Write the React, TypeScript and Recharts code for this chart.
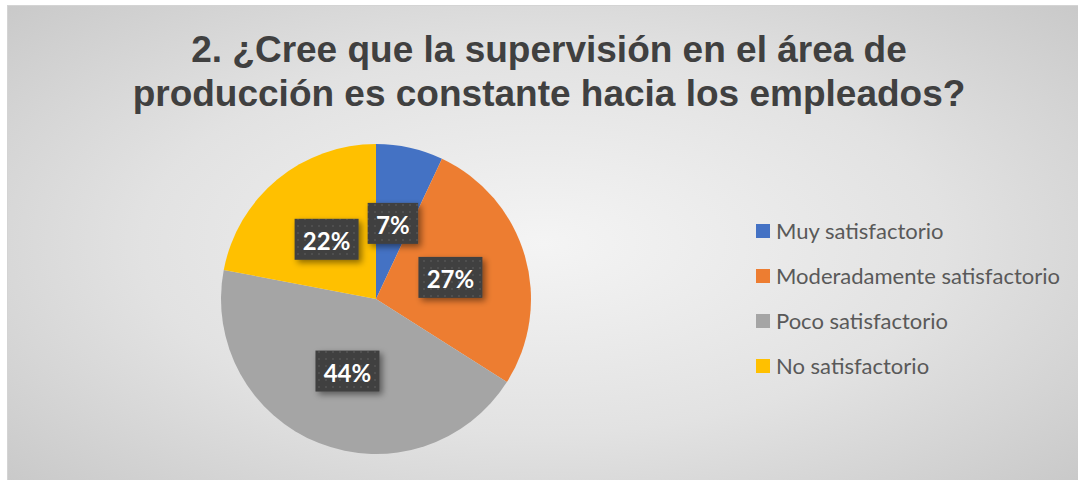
import React from "react";
import { Cell, Legend, Pie, PieChart } from "recharts";

const categories = [
  "Muy satisfactorio",
  "Moderadamente satisfactorio",
  "Poco satisfactorio",
  "No satisfactorio",
];
const percents = [7, 27, 44, 22];
const colors = ["#4472C4", "#ED7D31", "#A5A5A5", "#FFC000"];

const data = categories.map((name, i) => ({ name, value: percents[i] }));

const RAD = Math.PI / 180;

const renderLabel = (props: any) => {
  const { cx, cy, midAngle, outerRadius, value } = props;
  const r = outerRadius * 0.5;
  const x = cx + r * Math.cos(-midAngle * RAD);
  const y = cy + r * Math.sin(-midAngle * RAD);
  const text = `${value}%`;
  const w = String(value).length * 13.5 + 37;
  const h = 41;
  return (
    <g>
      <rect
        x={x - w / 2}
        y={y - h / 2}
        width={w}
        height={h}
        fill="url(#dots)"
        filter="url(#shadow)"
      />
      <text
        x={x}
        y={y + 1}
        fill="#ffffff"
        textAnchor="middle"
        dominantBaseline="central"
        fontFamily="Lato"
        fontWeight={700}
        fontSize={24}
      >
        {text}
      </text>
    </g>
  );
};

const renderLegend = () => (
  <div style={{ fontFamily: "Lato", fontSize: 22, color: "#595959" }}>
    {categories.map((c, i) => (
      <div
        key={c}
        style={{ display: "flex", alignItems: "center", height: 45 }}
      >
        <span
          style={{
            display: "inline-block",
            width: 14,
            height: 14,
            background: colors[i],
            marginRight: 6,
          }}
        />
        <span>{c}</span>
      </div>
    ))}
  </div>
);

export default function App() {
  return (
    <div
      style={{
        position: "absolute",
        left: 7,
        top: 5,
        width: 1071,
        height: 476,
        boxSizing: "border-box",
        borderLeft: "1px solid #d4d4d4",
        borderTop: "1px solid #d4d4d4",
        background:
          "radial-gradient(ellipse 75% 80% at 50% 50%, #f4f4f4 0%, #e2e2e2 50%, #c4c4c4 100%)",
      }}
    >
      <div
        style={{
          position: "absolute",
          top: 22,
          left: 0,
          width: 1082,
          textAlign: "center",
          fontFamily: "'Liberation Sans', Arial, sans-serif",
          fontWeight: 700,
          fontSize: 37,
          lineHeight: "44px",
          color: "#404040",
        }}
      >
        2. ¿Cree que la supervisión en el área de
        <br />
        producción es constante hacia los empleados?
      </div>
      <PieChart
        width={1071}
        height={476}
        margin={{ top: 0, right: 0, bottom: 0, left: 0 }}
        style={{ position: "absolute", left: 0, top: 0 }}
      >
        <defs>
          <pattern id="dots" width="7" height="7" patternUnits="userSpaceOnUse">
            <rect width="7" height="7" fill="#404040" />
            <rect x="2" y="2" width="2" height="2" fill="#505050" />
          </pattern>
          <filter id="shadow" x="-30%" y="-30%" width="160%" height="160%">
            <feDropShadow
              dx="3"
              dy="3"
              stdDeviation="3"
              floodColor="#000000"
              floodOpacity="0.45"
            />
          </filter>
        </defs>
        <Pie
          data={data}
          dataKey="value"
          nameKey="name"
          cx={368}
          cy={293}
          outerRadius={155}
          startAngle={90}
          endAngle={-270}
          stroke="none"
          label={renderLabel}
          labelLine={false}
          isAnimationActive={false}
        >
          {data.map((d, i) => (
            <Cell key={d.name} fill={colors[i]} />
          ))}
        </Pie>
        <Legend
          layout="vertical"
          verticalAlign="middle"
          align="right"
          content={renderLegend}
          wrapperStyle={{ left: 748, top: 202, width: 323 }}
        />
      </PieChart>
    </div>
  );
}
